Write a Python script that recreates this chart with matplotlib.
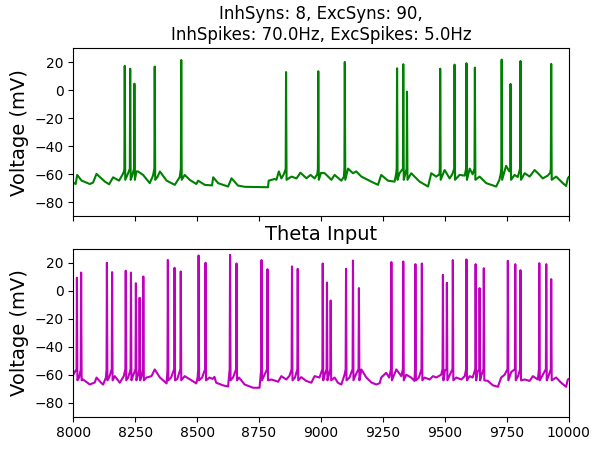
import matplotlib
matplotlib.use('Agg')
import matplotlib.pyplot as plt
import numpy as np

# top trace (soma, green): subthreshold points
top_base_t = [8000, 8010, 8016, 8034, 8067, 8080, 8094, 8128, 8145, 8161, 8185, 8200, 8205,
              8220, 8238, 8255, 8262, 8282, 8309, 8322, 8340, 8350, 8377, 8410, 8430,
              8450, 8470, 8497, 8504, 8531, 8560, 8565, 8585, 8625, 8639, 8665, 8692, 8786,
              8789, 8813, 8820, 8830, 8840, 8850, 8856, 8870, 8881, 8901, 8917, 8941, 8958,
              8974, 8985, 9000, 9015, 9042, 9055, 9082, 9092, 9109, 9129, 9142, 9163, 9203,
              9230, 9243, 9270, 9297, 9303, 9317, 9340, 9364, 9398, 9432, 9445, 9465, 9478,
              9499, 9519, 9530, 9559, 9580, 9600, 9612, 9640, 9667, 9707, 9720, 9725, 9747,
              9760, 9781, 9794, 9822, 9842, 9862, 9882, 9895, 9915, 9925, 9949, 9976, 9989,
              9996, 10000]
top_base_v = [-66, -67, -60.5, -64.6, -67, -66, -59.8, -65.3, -67.2, -62.2, -64.6, -60, -58,
              -60, -61, -58, -58.1, -60.5, -66.4, -61, -62, -58.1, -64.6, -67.6, -62,
              -60.5, -64, -67, -64.6, -67.6, -68, -62.2, -66.4, -68.8, -62.9, -68.1, -69, -69.3,
              -64.6, -63.4, -64, -58, -63, -60, -57, -63, -61.7, -63, -58.9, -62.9, -60.5,
              -63, -60, -59, -59.3, -64, -60.5, -64.6, -62, -56, -59.3, -58, -61.7, -65.3,
              -67.6, -60.5, -64.6, -65.3, -60, -59.3, -60, -59.3, -65.3, -68.8, -59.3, -61.7, -60,
              -57, -63, -60, -60.5, -61, -56, -60, -61.7, -66.4, -68.8, -64, -60, -54,
              -58, -60.5, -62, -59.3, -61.7, -57, -60.5, -63, -61, -59, -61.7, -66.4, -68.4,
              -63, -62]
top_spike_t = [8208, 8230, 8247, 8329, 8436, 8859, 8989, 9096, 9307, 9332, 9347, 9481,
               9539, 9587, 9621, 9729, 9765, 9805, 9929]
top_spike_v = [17.4, 15.4, 4.7, 16.9, 21.6, 13, 13.6, 20.2, 15.7, 18.6, -1, 15.4,
               18.3, 19.3, 16.2, 21.9, 4.5, 20.9, 18.8]

# bottom trace (theta input, magenta)
bot_base_t = [8000, 8010, 8024, 8040, 8067, 8087, 8094, 8114, 8121, 8132, 8145, 8168, 8188,
              8204, 8222, 8243, 8262, 8276, 8296, 8316, 8329, 8350, 8377, 8395, 8420, 8450,
              8497, 8502, 8520, 8550, 8563, 8570, 8577, 8605, 8625, 8645, 8669, 8692, 8726,
              8752, 8772, 8800, 8827, 8840, 8860, 8873, 8895, 8920, 8940, 8961, 8974, 8994,
              9015, 9032, 9055, 9068, 9082, 9095, 9115, 9140, 9163, 9183, 9203, 9223, 9237,
              9243, 9263, 9275, 9304, 9324, 9344, 9364, 9377, 9395, 9418, 9438, 9452, 9465,
              9485, 9500, 9520, 9546, 9566, 9580, 9600, 9612, 9632, 9648, 9673, 9694, 9714,
              9727, 9741, 9768, 9795, 9822, 9842, 9855, 9875, 9895, 9918, 9949, 9969, 9989,
              9996, 10000]
bot_base_v = [-60, -57, -62, -63.4, -67, -65.5, -62, -66, -67, -62, -62, -61, -65.7,
              -61, -62, -60, -60, -61, -62, -61, -56.2, -62, -66.2, -62, -63, -61,
              -66.2, -62, -62, -62, -63, -61.5, -65.7, -67.6, -68.4, -62, -62, -67, -69.3,
              -69.3, -60, -63.4, -65, -61, -63.4, -60.7, -62, -61.7, -64.4, -65.7, -61, -62,
              -60, -60, -62, -65.7, -67, -60, -62, -60, -56.2, -62, -65.5, -67, -66,
              -62, -58.6, -62, -56.2, -61, -60, -62, -64.4, -62, -62, -63.4, -61, -62,
              -60, -57, -60, -62, -63.4, -61, -61, -62, -58, -60, -64.4, -67.6, -68.6,
              -62, -60, -58, -61, -63.4, -64.4, -61, -63.4, -60, -61, -62, -65.7, -68.6,
              -63.4, -63]
bot_spike_t = [8015, 8032, 8136, 8157, 8212, 8233, 8253, 8268, 8283, 8382, 8409, 8434,
               8506, 8534, 8633, 8659, 8760, 8784, 8883, 8906, 9007, 9024, 9039, 9101,
               9129, 9153, 9284, 9332, 9381, 9407, 9492, 9508, 9532, 9587, 9624, 9640,
               9657, 9754, 9784, 9805, 9881, 9909, 9929]
bot_spike_v = [9.3, 13, 20, 13.3, 14.3, 13, 5.4, -5, 10.2, 22, 16.4, 13.8,
               25.2, 20, 25.7, 19.5, 21.9, 15.4, 17.4, 15.7, 19.5, 5.9, -7, 15.7,
               21.6, 1.9, 20.5, 20.9, 19, 19.5, 11.4, 5.7, 21.9, 22.4, 19, 1.9,
               16.1, 21.4, 19, 14.7, 19.7, 19, 8.3]


def build_trace(bt, bv, st, sv):
    # each spike: threshold just before, peak, quick fall to AHP
    t = list(bt)
    v = list(bv)
    for s, p in zip(st, sv):
        t += [s - 1.5, s, s + 2]
        v += [-56, p, -64]
    order = np.argsort(t)
    return np.array(t)[order], np.array(v)[order]


t1, v1 = build_trace(top_base_t, top_base_v, top_spike_t, top_spike_v)
t2, v2 = build_trace(bot_base_t, bot_base_v, bot_spike_t, bot_spike_v)

fig, (ax1, ax2) = plt.subplots(2, 1, sharex=True, figsize=(6, 4.51), dpi=100)
plt.subplots_adjust(left=0.122, right=0.948, top=0.893, bottom=0.076, hspace=0.194)

ax1.plot(t1, v1, color='g', linewidth=1.5)
ax1.set_title("InhSyns: 8, ExcSyns: 90,\nInhSpikes: 70.0Hz, ExcSpikes: 5.0Hz", fontsize=12)
ax1.set_ylabel("Voltage (mV)", fontsize=14)
ax1.set_ylim(-90, 30)

ax2.plot(t2, v2, color='m', linewidth=1.5)
ax2.set_title("Theta Input", fontsize=14)
ax2.set_ylabel("Voltage (mV)", fontsize=14)
ax2.set_ylim(-90, 30)
ax2.set_xlim(8000, 10000)
ax2.set_xticks([8000, 8250, 8500, 8750, 9000, 9250, 9500, 9750, 10000])

plt.savefig('out.png')
